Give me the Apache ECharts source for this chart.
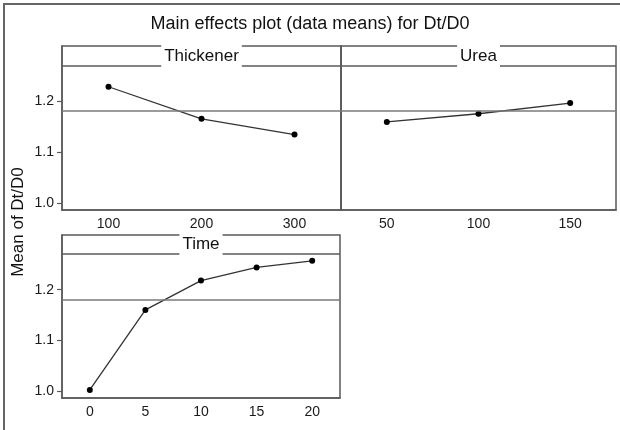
<!DOCTYPE html>
<html>
<head>
<meta charset="utf-8">
<script src="https://cdn.jsdelivr.net/npm/echarts@6.0.0/dist/echarts.min.js"></script>
<style>
  html, body { margin: 0; padding: 0; background: #fff; }
  #chart { width: 620px; height: 430px; }
</style>
</head>
<body>
<div id="chart"></div>
<script>
// Main effects plot (data means) for Dt/D0
const thickenerLevels = ['100', '200', '300'];
const thickenerMeans = [1.228, 1.165, 1.134];
const ureaLevels = ['50', '100', '150'];
const ureaMeans = [1.159, 1.175, 1.196];
const timeLevels = ['0', '5', '10', '15', '20'];
const timeMeans = [1.002, 1.160, 1.218, 1.244, 1.257];
const grandMean = 1.176;
const yTicks = [1.0, 1.1, 1.2];
const panelNames = ['Thickener', 'Urea', 'Time'];

const FONT = 'Liberation Sans, Arial, sans-serif';
const FRAME = '#5a5a5a';
const headerLevel = 1.272; // bottom line of the header strip
const yMin = 0.986, yMax = 1.308;

const grids = [
    { left: 62, top: 46, width: 279, height: 164 },
    { left: 341, top: 46, width: 275, height: 164 },
    { left: 62, top: 235, width: 278, height: 163 }
].map(g => ({ ...g, show: true, borderColor: FRAME, borderWidth: 1.5, containLabel: false }));

const xAxes = [thickenerLevels, ureaLevels, timeLevels].map((levels, i) => ({
    type: 'category',
    gridIndex: i,
    data: levels,
    boundaryGap: true,
    axisLine: { lineStyle: { color: FRAME, width: 1.5 } },
    axisTick: { alignWithLabel: true, length: 4, lineStyle: { color: FRAME, width: 1.2 } },
    axisLabel: { color: '#1a1a1a', fontSize: 14, fontFamily: FONT, margin: 7 },
    splitLine: { show: false }
}));

const yAxes = [0, 1, 2].map(i => ({
    type: 'value',
    gridIndex: i,
    min: yMin,
    max: yMax,
    axisLine: { show: true, lineStyle: { color: FRAME, width: 1.5 } },
    axisTick: { show: i !== 1, length: 5, customValues: yTicks, lineStyle: { color: FRAME, width: 1.2 } },
    axisLabel: {
        show: i !== 1, customValues: yTicks, color: '#1a1a1a', fontSize: 14, fontFamily: FONT, margin: 8,
        formatter: v => v.toFixed(1)
    },
    splitLine: { show: false }
}));

const series = [thickenerMeans, ureaMeans, timeMeans].map((vals, i) => ({
    type: 'line',
    xAxisIndex: i,
    yAxisIndex: i,
    data: vals,
    symbol: 'circle',
    symbolSize: 6,
    itemStyle: { color: '#000' },
    lineStyle: { color: '#333', width: 1.3 },
    animation: false,
    markLine: {
        silent: true,
        symbol: 'none',
        label: { show: false },
        animation: false,
        data: [
            { yAxis: grandMean, lineStyle: { color: '#7a7a7a', width: 1.6, type: 'solid' } },
            { yAxis: headerLevel, lineStyle: { color: FRAME, width: 1.5, type: 'solid' } }
        ]
    }
}));

const headerPos = [[201.5, 56], [478.5, 56], [201, 244]];

const chart = echarts.init(document.getElementById('chart'), null, { renderer: 'canvas' });
chart.setOption({
    animation: false,
    backgroundColor: '#fff',
    title: {
        text: 'Main effects plot (data means) for Dt/D0',
        left: 'center', top: 10,
        textStyle: { fontSize: 18, fontWeight: 'normal', color: '#111', fontFamily: FONT }
    },
    grid: grids,
    xAxis: xAxes,
    yAxis: yAxes,
    series,
    graphic: [
        // outer frame: only left and top edges fall inside the picture
        { type: 'rect', z: 0, shape: { x: 4, y: 4, width: 660, height: 460 },
          style: { fill: 'none', stroke: '#666', lineWidth: 2 } },
        ...panelNames.map((name, i) => ({
            type: 'text', z: 100,
            x: headerPos[i][0], y: headerPos[i][1],
            style: {
                text: name, fontSize: 17, fontFamily: FONT, fill: '#111',
                align: 'center', verticalAlign: 'middle',
                backgroundColor: '#fff', padding: [5, 3]
            }
        })),
        {
            type: 'text', z: 100, x: 18, y: 222, rotation: Math.PI / 2,
            style: {
                text: 'Mean of Dt/D0', fontSize: 17, fontFamily: FONT, fill: '#111',
                align: 'center', verticalAlign: 'middle'
            }
        }
    ]
});
</script>
</body>
</html>
